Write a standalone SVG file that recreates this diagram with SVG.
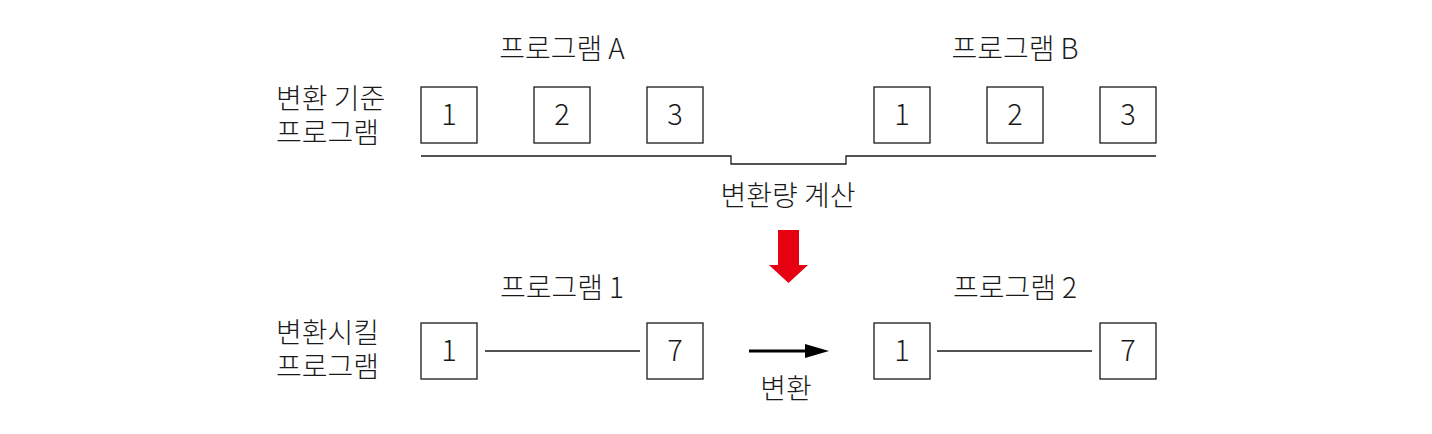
<svg xmlns="http://www.w3.org/2000/svg" width="1432" height="434" viewBox="0 0 1432 434">
<defs>
<style>
text{font-family:"Noto Sans CJK KR","Noto Sans",sans-serif;fill:#1a1a1a;font-weight:300}
.t{font-size:28px}
.n{font-size:29px;text-anchor:middle}
.c{text-anchor:middle}
.box{fill:#fff;stroke:#1a1a1a;stroke-width:1.3}
.ln{fill:none;stroke:#1a1a1a;stroke-width:1.3}
</style>
</defs>
<rect width="1432" height="434" fill="#fff"/>
<g id="labels">
<text class="t c" x="562" y="59">프로그램 A</text>
<text class="t c" x="1015" y="59">프로그램 B</text>
<text class="t" x="276" y="109">변환 기준</text>
<text class="t" x="276" y="143">프로그램</text>
<text class="t c" x="788" y="206">변환량 계산</text>
<text class="t c" x="562" y="298">프로그램 1</text>
<text class="t c" x="1015" y="298">프로그램 2</text>
<text class="t" x="276" y="343">변환시킬</text>
<text class="t" x="276" y="377">프로그램</text>
<text class="t c" x="786" y="399">변환</text>
</g>
<g id="connectors">
<path class="ln" d="M421,156H731V164H846V156H1156"/>
<path class="ln" d="M485,351H640"/>
<path class="ln" d="M937,351H1092"/>
<path d="M749,351H806" stroke="#000" stroke-width="3" fill="none"/>
<path d="M805,344L829,351L805,358Z" fill="#000"/>
<path d="M778,230H799V265H808L788.5,283L769,265H778Z" fill="#e60012"/>
</g>
<g id="a1"><rect class="box" x="421" y="87" width="56" height="56"/><text class="n" x="449" y="125">1</text></g>
<g id="a2"><rect class="box" x="534" y="87" width="56" height="56"/><text class="n" x="562" y="125">2</text></g>
<g id="a3"><rect class="box" x="647" y="87" width="56" height="56"/><text class="n" x="675" y="125">3</text></g>
<g id="b1"><rect class="box" x="874" y="87" width="56" height="56"/><text class="n" x="902" y="125">1</text></g>
<g id="b2"><rect class="box" x="987" y="87" width="56" height="56"/><text class="n" x="1015" y="125">2</text></g>
<g id="b3"><rect class="box" x="1100" y="87" width="56" height="56"/><text class="n" x="1128" y="125">3</text></g>
<g id="p1a"><rect class="box" x="421" y="323" width="56" height="56"/><text class="n" x="449" y="361">1</text></g>
<g id="p1b"><rect class="box" x="647" y="323" width="56" height="56"/><text class="n" x="675" y="361">7</text></g>
<g id="p2a"><rect class="box" x="874" y="323" width="56" height="56"/><text class="n" x="902" y="361">1</text></g>
<g id="p2b"><rect class="box" x="1100" y="323" width="56" height="56"/><text class="n" x="1128" y="361">7</text></g>
</svg>
